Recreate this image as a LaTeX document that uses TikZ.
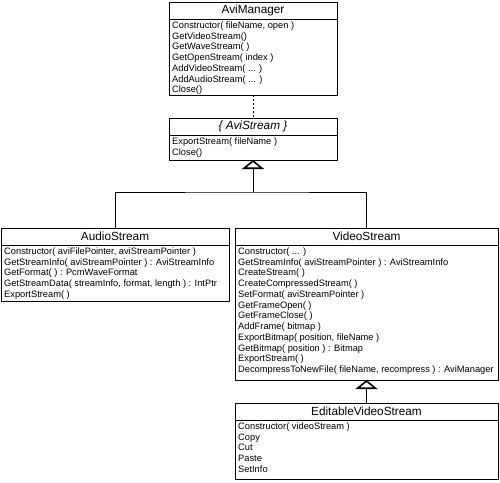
\documentclass[tikz,border=0pt]{standalone}
\usepackage{fontspec}
\setmainfont{Liberation Sans}
\usetikzlibrary{arrows.meta}
\begin{document}
\begin{tikzpicture}[x=1pt,y=-1pt,
  box/.style={draw,line width=1pt,anchor=north west,inner sep=0pt,outer sep=0pt},
  ttl/.style={font=\fontsize{11.8}{13}\selectfont},
  mth/.style={anchor=north west,align=left,inner sep=0pt,font=\fontsize{9.3}{10.75}\selectfont},
  link/.style={line width=1pt},
  inh/.style={line width=1pt,-{Triangle[open,width=22pt,length=9pt,line width=1.6pt]}},
  dep/.style={line width=1pt,dash pattern=on 2pt off 2pt},
]
\useasboundingbox (0,0) rectangle (500,482);

% AviManager
\node[box,ttl,minimum width=168pt,minimum height=17pt] (amT) at (169,2) {AviManager};
\node[box,minimum width=168pt,minimum height=76pt] (amB) at (169,19) {};
\node[mth] (amM) at ([xshift=3pt,yshift=-2.5pt]amB.north west) {Constructor( fileName, open )\\GetVideoStream()\\GetWaveStream( )\\GetOpenStream( index )\\AddVideoStream( ... )\\AddAudioStream( ... )\\Close()};

% AviStream
\node[box,ttl,minimum width=168pt,minimum height=17pt] (asT) at (169,118) {\itshape\{ AviStream \}};
\node[box,minimum width=168pt,minimum height=25pt] (asB) at (169,135) {};
\node[mth] (asM) at ([xshift=3pt,yshift=-2.5pt]asB.north west) {ExportStream( fileName )\\Close()};

% AudioStream
\node[box,ttl,minimum width=228pt,minimum height=17pt] (auT) at (1,228) {AudioStream};
\node[box,minimum width=228pt,minimum height=56pt] (auB) at (1,245) {};
\node[mth] (auM) at ([xshift=3pt,yshift=-2.5pt]auB.north west) {Constructor( aviFilePointer, aviStreamPointer )\\GetStreamInfo( aviStreamPointer ) : AviStreamInfo\\GetFormat( ) : PcmWaveFormat\\GetStreamData( streamInfo, format, length ) : IntPtr\\ExportStream( )};

% VideoStream
\node[box,ttl,minimum width=263pt,minimum height=17pt] (vsT) at (235,228) {VideoStream};
\node[box,minimum width=263pt,minimum height=135pt] (vsB) at (235,245) {};
\node[mth] (vsM) at ([xshift=3pt,yshift=-2.5pt]vsB.north west) {Constructor( ... )\\GetStreamInfo( aviStreamPointer ) : AviStreamInfo\\CreateStream( )\\CreateCompressedStream( )\\SetFormat( aviStreamPointer )\\GetFrameOpen( )\\GetFrameClose( )\\AddFrame( bitmap )\\ExportBitmap( position, fileName )\\GetBitmap( position ) : Bitmap\\ExportStream( )\\DecompressToNewFile( fileName, recompress ) : AviManager};

% EditableVideoStream
\node[box,ttl,minimum width=263pt,minimum height=17pt] (evT) at (235,403) {EditableVideoStream};
\node[box,minimum width=263pt,minimum height=59pt] (evB) at (235,420) {};
\node[mth] (evM) at ([xshift=3pt,yshift=-2.5pt]evB.north west) {Constructor( videoStream )\\Copy\\Cut\\Paste\\SetInfo};

% connectors
\draw[dep] (amB.south) -- (asT.north);
\coordinate (j) at (253,192);
\draw[link] (auT.north) |- (j) -| (vsT.north);
\draw[inh] (j) -- (asB.south);
\draw[inh] (evT.north) -- (vsB.south);
\end{tikzpicture}
\end{document}
